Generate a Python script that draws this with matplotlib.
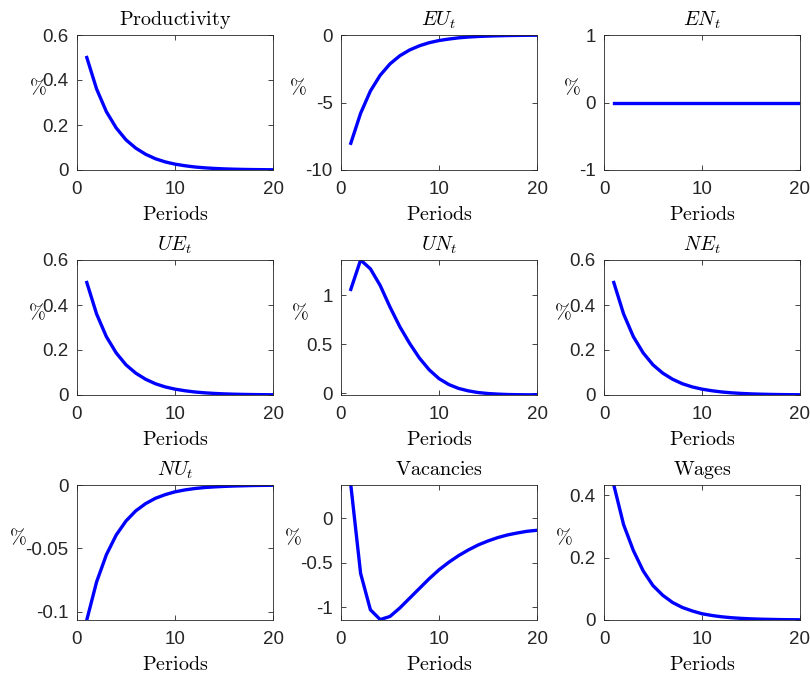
import numpy as np
import matplotlib
matplotlib.use("Agg")
import matplotlib.pyplot as plt

plt.rcParams["mathtext.fontset"] = "cm"
plt.rcParams["font.family"] = ["Liberation Sans", "DejaVu Sans"]

# Impulse responses, periods 1..20 (percent deviations)
periods = np.arange(1, 21)

productivity = [0.500, 0.360, 0.259, 0.187, 0.134, 0.097, 0.070, 0.050, 0.036, 0.026,
                0.019, 0.0135, 0.0097, 0.0070, 0.0050, 0.0036, 0.0026, 0.0019, 0.0014, 0.0010]
eu = [-8.02, -5.80, -4.15, -2.98, -2.14, -1.54, -1.11, -0.80, -0.57, -0.41,
      -0.30, -0.21, -0.15, -0.11, -0.08, -0.057, -0.041, -0.030, -0.021, -0.015]
en = [0.0] * 20
ue = [0.500, 0.360, 0.259, 0.187, 0.134, 0.097, 0.070, 0.050, 0.036, 0.026,
      0.019, 0.0135, 0.0097, 0.0070, 0.0050, 0.0036, 0.0026, 0.0019, 0.0014, 0.0010]
un = [1.06, 1.36, 1.27, 1.10, 0.88, 0.68, 0.51, 0.36, 0.24, 0.15,
      0.09, 0.05, 0.025, 0.008, -0.002, -0.008, -0.012, -0.014, -0.015, -0.015]
ne = [0.500, 0.360, 0.259, 0.187, 0.134, 0.097, 0.070, 0.050, 0.036, 0.026,
      0.019, 0.0135, 0.0097, 0.0070, 0.0050, 0.0036, 0.0026, 0.0019, 0.0014, 0.0010]
nu = [-0.1065, -0.0765, -0.0550, -0.0395, -0.0284, -0.0204, -0.0147, -0.0105, -0.0076, -0.0054,
      -0.0039, -0.0028, -0.0020, -0.0015, -0.0011, -0.0008, -0.0006, -0.0004, -0.0003, -0.0002]
vacancies = [0.375, -0.62, -1.03, -1.14, -1.105, -1.01, -0.90, -0.79, -0.68, -0.58,
             -0.495, -0.42, -0.356, -0.30, -0.255, -0.217, -0.187, -0.165, -0.146, -0.135]
wages = [0.432, 0.305, 0.222, 0.157, 0.110, 0.079, 0.056, 0.040, 0.029, 0.020,
         0.0145, 0.0103, 0.0073, 0.0052, 0.0037, 0.0026, 0.0019, 0.0013, 0.0009, 0.0007]

titles = [r"$\mathrm{Productivity}$", r"$EU_t$", r"$EN_t$",
          r"$UE_t$", r"$UN_t$", r"$NE_t$",
          r"$NU_t$", r"$\mathrm{Vacancies}$", r"$\mathrm{Wages}$"]
series = [productivity, eu, en, ue, un, ne, nu, vacancies, wages]
ylims = [(0, 0.6), (-10, 0), (-1, 1),
         (0, 0.6), (-0.017, 1.36), (0, 0.6),
         (-0.1066, 0), (-1.145, 0.375), (0, 0.432)]
yticks = [[0, 0.2, 0.4, 0.6], [-10, -5, 0], [-1, 0, 1],
          [0, 0.2, 0.4, 0.6], [0, 0.5, 1], [0, 0.2, 0.4, 0.6],
          [-0.1, -0.05, 0], [-1, -0.5, 0], [0, 0.2, 0.4]]
yticklabels = [["0", "0.2", "0.4", "0.6"], ["-10", "-5", "0"], ["-1", "0", "1"],
               ["0", "0.2", "0.4", "0.6"], ["0", "0.5", "1"], ["0", "0.2", "0.4", "0.6"],
               ["-0.1", "-0.05", "0"], ["-1", "-0.5", "0"], ["0", "0.2", "0.4"]]
# horizontal offset of the "%" label from the left spine, in pixels
pct_offsets = [-39, -43, -32, -40, -41, -41, -59, -48, -40]

fig = plt.figure(figsize=(8.1, 6.77), dpi=100)
W, H = 810, 677
lefts = [77, 341, 604]
tops = [35, 260, 485]
aw, ah = 196, 135

for i, (title, y) in enumerate(zip(titles, series)):
    r, c = divmod(i, 3)
    ax = fig.add_axes([lefts[c] / W, 1 - (tops[r] + ah) / H, aw / W, ah / H])
    ax.plot(periods, y, color=(0, 0, 1), lw=2.4, solid_joinstyle="miter")
    ax.set_xlim(0, 20)
    ax.set_ylim(*ylims[i])
    ax.set_xticks([0, 10, 20])
    ax.set_xticklabels(["0", "10", "20"])
    ax.set_yticks(yticks[i])
    ax.set_yticklabels(yticklabels[i])
    ax.tick_params(direction="in", length=3.5, width=0.6, top=True, right=True,
                   labelsize=13.5, colors="#262626")
    ax.tick_params(axis="x", pad=8)
    ax.tick_params(axis="y", pad=6)
    for s in ax.spines.values():
        s.set_linewidth(0.6)
        s.set_color("#262626")
    ax.set_title(title, fontsize=14.5, pad=7)
    ax.set_xlabel(r"$\mathrm{Periods}$", fontsize=14.5, labelpad=5)
    ax.set_ylabel(r"$\%$", fontsize=14.5, rotation=0, va="center", ha="center")
    ax.yaxis.set_label_coords(pct_offsets[i] / aw, 0.61)

fig.savefig("out.png", dpi=100)
